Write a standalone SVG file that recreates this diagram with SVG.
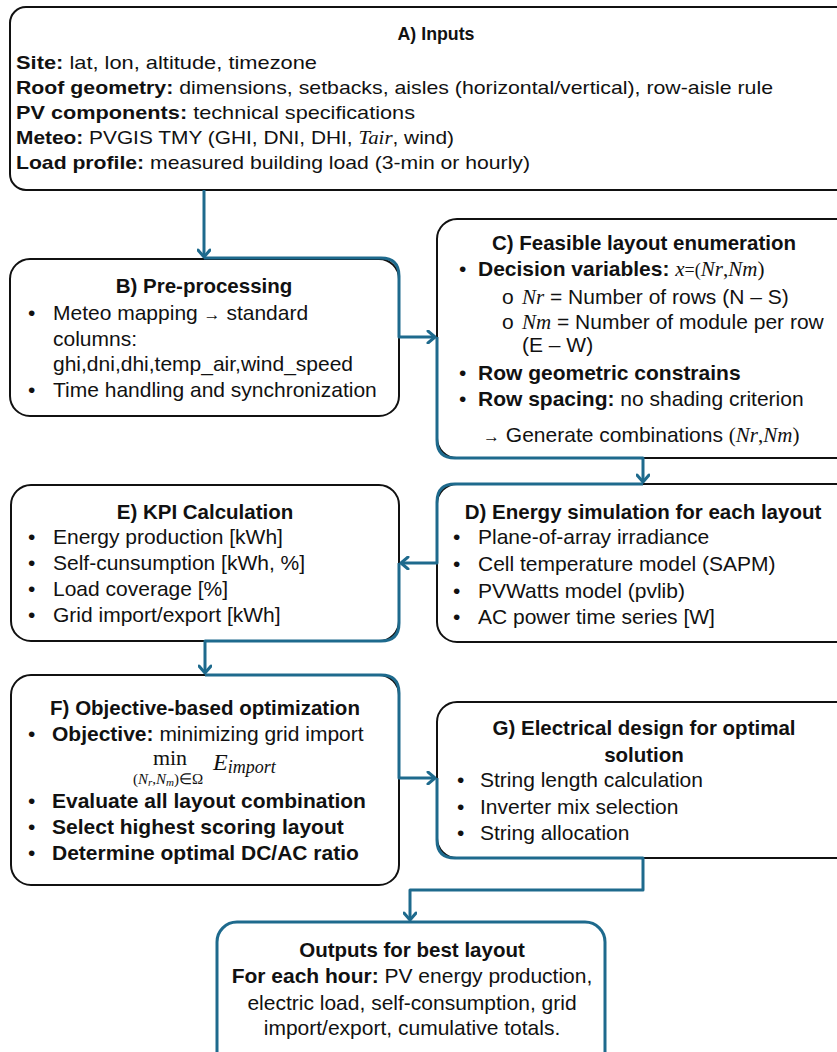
<svg xmlns="http://www.w3.org/2000/svg" width="837" height="1052" viewBox="0 0 837 1052">
<defs>
<marker id="ah" markerUnits="userSpaceOnUse" markerWidth="14" markerHeight="14" viewBox="0 0 14 14" refX="11" refY="7" orient="auto">
<path d="M4,1 L11,7 L4,13" fill="none" stroke="#1e6a8d" stroke-width="3" stroke-linecap="round" stroke-linejoin="round"/>
</marker>
<style>
.box{fill:#fff;stroke:#111;stroke-width:2}
.obox{fill:#fff;stroke:#1e6a8d;stroke-width:3}
.c{fill:none;stroke:#1e6a8d;stroke-width:3;stroke-linejoin:round}
text{font-family:"Liberation Sans",Arial,sans-serif;fill:#111}
.t{font-size:21px}
.h{font-size:20.5px;font-weight:bold;text-anchor:middle}
.a{font-size:19px}
.ah{font-size:19px;font-weight:bold;text-anchor:middle}
.b{font-weight:bold}
.m{font-family:"Liberation Serif","Times New Roman",serif;font-style:italic}
.ms{font-family:"Liberation Serif","Times New Roman",serif}
.ctr{text-anchor:middle}
.arr{font-size:17px}
</style>
</defs>

<g id="nodeA">
<rect class="box" x="10" y="7" width="870" height="183" rx="16"/>
<text class="ah" x="436" y="40" textLength="77" lengthAdjust="spacingAndGlyphs">A) Inputs</text>
<text class="a" x="16" y="69" textLength="301" lengthAdjust="spacingAndGlyphs"><tspan class="b">Site:</tspan> lat, lon, altitude, timezone</text>
<text class="a" x="16" y="94" textLength="757" lengthAdjust="spacingAndGlyphs"><tspan class="b">Roof geometry:</tspan> dimensions, setbacks, aisles (horizontal/vertical), row-aisle rule</text>
<text class="a" x="16" y="119" textLength="399" lengthAdjust="spacingAndGlyphs"><tspan class="b">PV components:</tspan> technical specifications</text>
<text class="a" x="16" y="144" textLength="438" lengthAdjust="spacingAndGlyphs"><tspan class="b">Meteo:</tspan> PVGIS TMY (GHI, DNI, DHI, <tspan class="m">Tair</tspan>, wind)</text>
<text class="a" x="16" y="169" textLength="514" lengthAdjust="spacingAndGlyphs"><tspan class="b">Load profile:</tspan> measured building load (3-min or hourly)</text>
</g>

<g id="nodeB">
<rect class="box" x="10" y="259" width="389" height="157" rx="20"/>
<text class="h" x="204" y="293">B) Pre-processing</text>
<text class="t" x="28" y="320">•</text>
<text class="t" x="53" y="320">Meteo mapping <tspan class="arr">→</tspan> standard</text>
<text class="t" x="53" y="346">columns:</text>
<text class="t" x="53" y="371">ghi,dni,dhi,temp_air,wind_speed</text>
<text class="t" x="28" y="397">•</text>
<text class="t" x="53" y="397">Time handling and synchronization</text>
</g>

<g id="nodeC">
<rect class="box" x="437" y="219" width="430" height="239" rx="20"/>
<text class="h" x="644" y="250">C) Feasible layout enumeration</text>
<text class="t" x="459" y="276">•</text>
<text class="t" x="478" y="276"><tspan class="b">Decision variables: </tspan><tspan class="m">x</tspan><tspan class="ms" font-size="18">=(</tspan><tspan class="m">Nr</tspan><tspan class="ms">,</tspan><tspan class="m">Nm</tspan><tspan class="ms">)</tspan></text>
<text class="t" x="502" y="304" font-size="15">o</text>
<text class="t" x="522" y="304"><tspan class="m">Nr</tspan> = Number of rows (N – S)</text>
<text class="t" x="502" y="329" font-size="15">o</text>
<text class="t" x="522" y="329"><tspan class="m">Nm</tspan> = Number of module per row</text>
<text class="t" x="522" y="352">(E – W)</text>
<text class="t" x="459" y="380">•</text>
<text class="t b" x="478" y="380">Row geometric constrains</text>
<text class="t" x="459" y="406">•</text>
<text class="t" x="478" y="406"><tspan class="b">Row spacing:</tspan> no shading criterion</text>
<text class="t" x="483" y="442"><tspan class="arr">→</tspan> Generate combinations <tspan class="ms">(</tspan><tspan class="m">Nr</tspan><tspan class="ms">,</tspan><tspan class="m">Nm</tspan><tspan class="ms">)</tspan></text>
</g>

<g id="nodeD">
<rect class="box" x="437" y="484" width="430" height="158" rx="20"/>
<text class="h" x="643" y="519">D) Energy simulation for each layout</text>
<text class="t" x="453" y="544">•</text>
<text class="t" x="478" y="544">Plane-of-array irradiance</text>
<text class="t" x="453" y="571">•</text>
<text class="t" x="478" y="571">Cell temperature model (SAPM)</text>
<text class="t" x="453" y="598">•</text>
<text class="t" x="478" y="598">PVWatts model (pvlib)</text>
<text class="t" x="453" y="624">•</text>
<text class="t" x="478" y="624">AC power time series [W]</text>
</g>

<g id="nodeE">
<rect class="box" x="11" y="485" width="388" height="156" rx="20"/>
<text class="h" x="205" y="519">E) KPI Calculation</text>
<text class="t" x="28" y="544">•</text>
<text class="t" x="53" y="544">Energy production [kWh]</text>
<text class="t" x="28" y="570">•</text>
<text class="t" x="53" y="570">Self-cunsumption [kWh, %]</text>
<text class="t" x="28" y="596">•</text>
<text class="t" x="53" y="596">Load coverage [%]</text>
<text class="t" x="28" y="622">•</text>
<text class="t" x="53" y="622">Grid import/export [kWh]</text>
</g>

<g id="nodeF">
<rect class="box" x="11" y="675" width="388" height="210" rx="20"/>
<text class="h" x="205" y="715">F) Objective-based optimization</text>
<text class="t" x="28" y="741">•</text>
<text class="t" x="52" y="741"><tspan class="b">Objective:</tspan> minimizing grid import</text>
<text class="ms ctr" x="170" y="765" font-size="22">min</text>
<text class="ms ctr" x="168" y="784" font-size="15">(<tspan class="m">N</tspan><tspan class="m" font-size="11" dy="2">r</tspan><tspan dy="-2">,</tspan><tspan class="m">N</tspan><tspan class="m" font-size="11" dy="2">m</tspan><tspan dy="-2">)∈Ω</tspan></text>
<text class="m" x="213" y="770" font-size="24">E<tspan font-size="18" dy="3">import</tspan></text>
<text class="t" x="28" y="808">•</text>
<text class="t b" x="52" y="808">Evaluate all layout combination</text>
<text class="t" x="28" y="834">•</text>
<text class="t b" x="52" y="834">Select highest scoring layout</text>
<text class="t" x="28" y="860">•</text>
<text class="t b" x="52" y="860">Determine optimal DC/AC ratio</text>
</g>

<g id="nodeG">
<rect class="box" x="437" y="702" width="430" height="156" rx="20"/>
<text class="h" x="644" y="735">G) Electrical design for optimal</text>
<text class="h" x="644" y="762">solution</text>
<text class="t" x="457" y="787">•</text>
<text class="t" x="480" y="787">String length calculation</text>
<text class="t" x="457" y="814">•</text>
<text class="t" x="480" y="814">Inverter mix selection</text>
<text class="t" x="457" y="840">•</text>
<text class="t" x="480" y="840">String allocation</text>
</g>

<g id="nodeOut">
<rect class="obox" x="217" y="922" width="388" height="170" rx="20"/>
<text class="h" x="412" y="957">Outputs for best layout</text>
<text class="t ctr" x="412" y="983"><tspan class="b">For each hour:</tspan> PV energy production,</text>
<text class="t ctr" x="412" y="1010">electric load, self-consumption, grid</text>
<text class="t ctr" x="412" y="1035">import/export, cumulative totals.</text>
</g>

<g id="connectors">
<path class="c" d="M204,190 V257" marker-end="url(#ah)"/>
<path class="c" d="M204,258 H381 Q399,258 399,276 V337 H435" marker-end="url(#ah)"/>
<path class="c" d="M437,337 V440 Q437,458 455,458 H643 V482" marker-end="url(#ah)"/>
<path class="c" d="M643,484 H455 Q437,484 437,502 V563 H401" marker-end="url(#ah)"/>
<path class="c" d="M399,563 V623 Q399,641 381,641 H205 V673" marker-end="url(#ah)"/>
<path class="c" d="M205,675 H381 Q399,675 399,693 V778 H435" marker-end="url(#ah)"/>
<path class="c" d="M437,778 V840 Q437,858 455,858 H643 V890 H410 V920" marker-end="url(#ah)"/>
</g>
</svg>
